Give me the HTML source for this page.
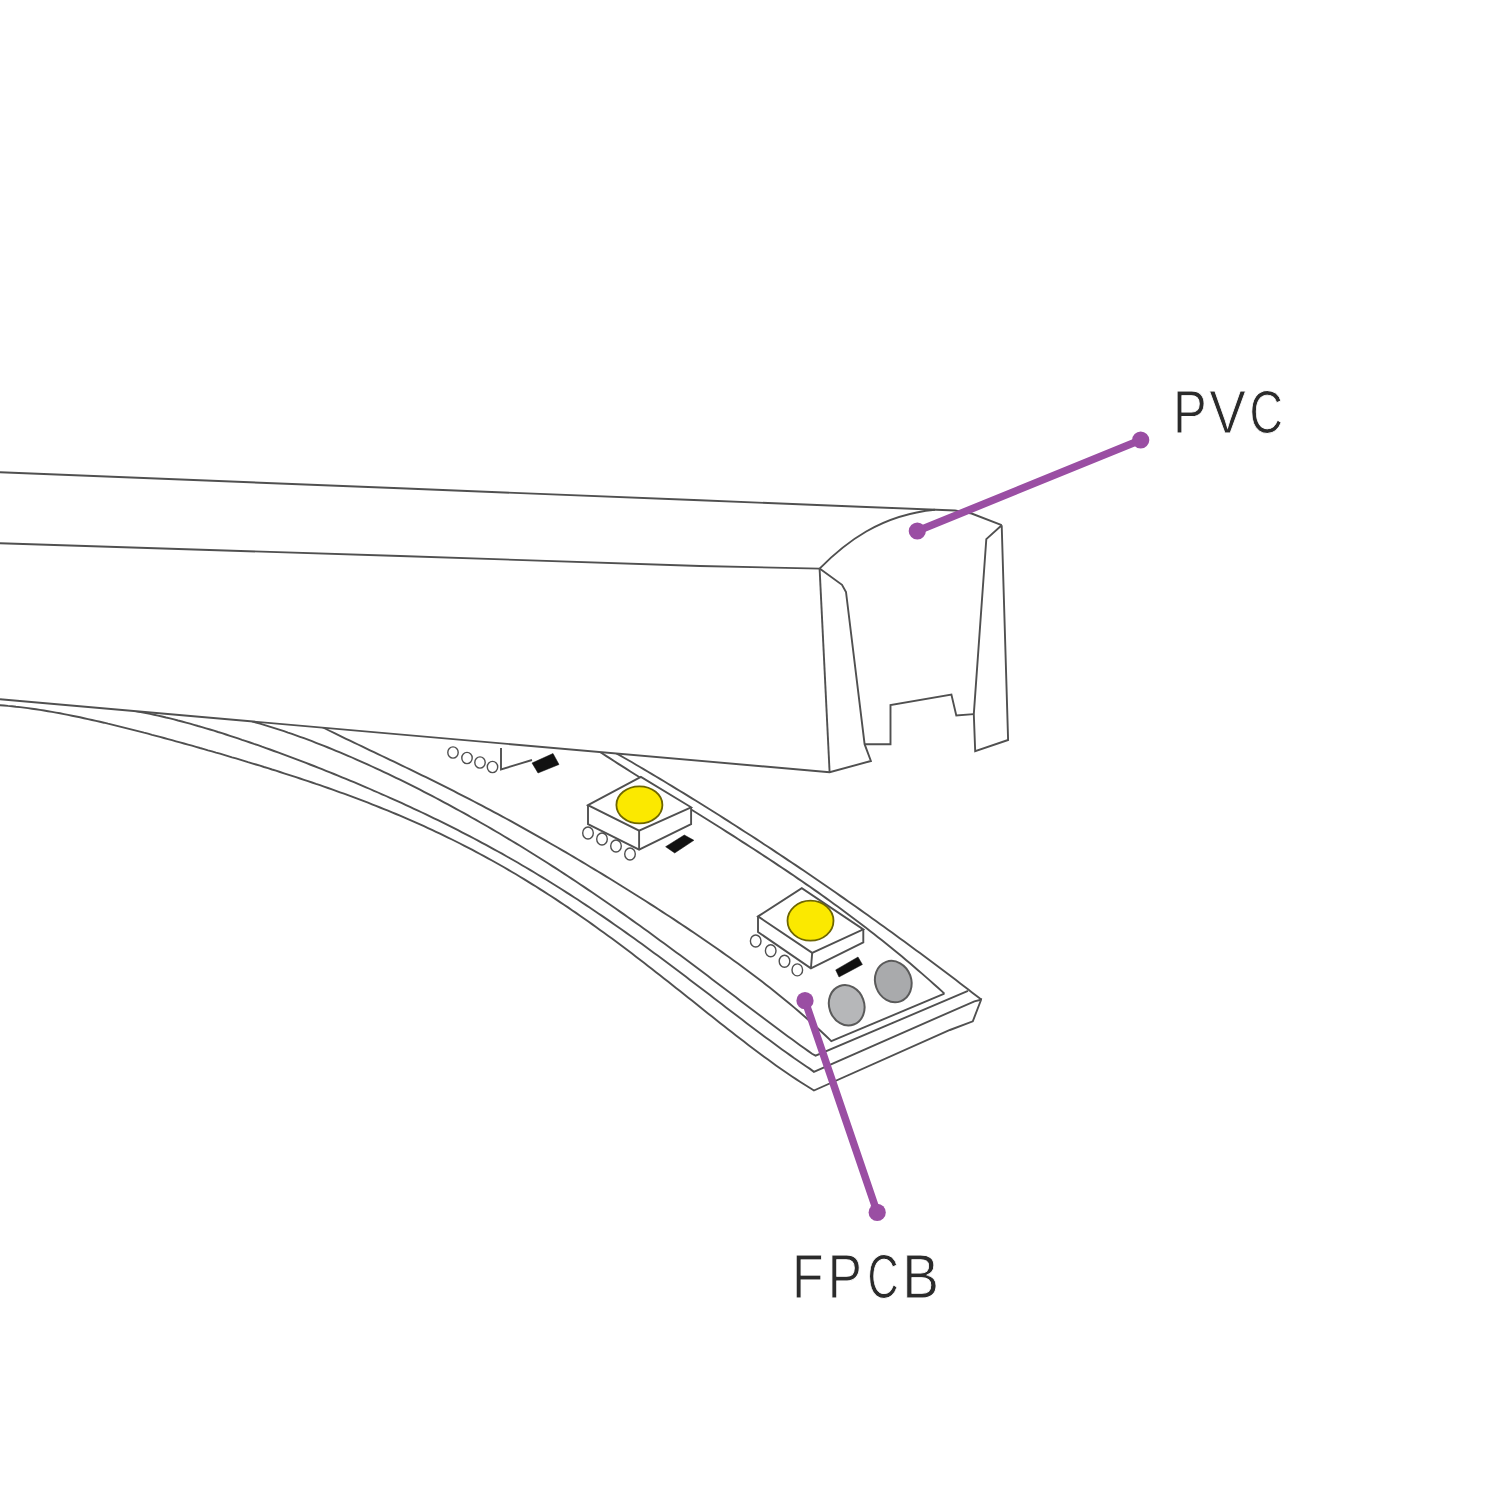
<!DOCTYPE html>
<html><head><meta charset="utf-8"><title>PVC FPCB</title>
<style>html,body{margin:0;padding:0;background:#fff;width:1500px;height:1500px;overflow:hidden;font-family:"Liberation Sans",sans-serif;}
svg{display:block;}</style></head><body>
<svg width="1500" height="1500" viewBox="0 0 1500 1500"><path d="M318,725 L322,727 L326,729 L330,731 L334,732.9 L338,734.9 L342,736.8 L346,738.8 L350,740.7 L354,742.6 L358,744.5 L362,746.4 L366,748.4 L370,750.3 L374,752.2 L378,754.1 L382,756 L386,757.9 L390,759.8 L394,761.7 L398,763.6 L402,765.6 L406,767.5 L410,769.4 L414,771.4 L418,773.3 L422,775.3 L426,777.2 L430,779.2 L434,781.2 L438,783.2 L442,785.2 L446,787.2 L450,789.2 L454,791.2 L458,793.3 L462,795.3 L466,797.4 L470,799.4 L474,801.5 L478,803.6 L482,805.7 L486,807.8 L490,809.9 L494,812.1 L498,814.2 L502,816.4 L506,818.5 L510,820.7 L514,822.9 L518,825.1 L522,827.3 L526,829.6 L530,831.8 L534,834.1 L538,836.3 L542,838.6 L546,840.9 L550,843.2 L554,845.5 L558,847.8 L562,850.1 L566,852.4 L570,854.8 L574,857.1 L578,859.5 L582,861.9 L586,864.3 L590,866.7 L594,869.1 L598,871.5 L602,873.9 L606,876.4 L610,878.8 L614,881.3 L618,883.7 L622,886.2 L626,888.7 L630,891.2 L634,893.7 L638,896.2 L642,898.8 L646,901.3 L650,903.9 L654,906.4 L658,909 L662,911.6 L666,914.2 L670,916.8 L674,919.4 L678,922.1 L682,924.7 L686,927.4 L690,930.1 L694,932.8 L698,935.5 L702,938.2 L706,941 L710,943.7 L714,946.5 L718,949.3 L722,952.1 L726,955 L730,957.8 L734,960.7 L738,963.6 L742,966.6 L746,969.5 L750,972.5 L754,975.5 L758,978.5 L762,981.6 L766,984.7 L770,987.8 L774,991 L778,994.2 L782,997.4 L786,1000.7 L790,1004 L794,1007.4 L798,1010.8 L802,1014.2 L806,1017.7 L810,1021.3 L814,1024.9 L818,1028.5 L822,1032.2 L826,1036 L830,1039.8 L831.3,1041.2 L944.4,993.6" fill="none" stroke="#505050" stroke-width="1.9" />
<path d="M598,750.7 L602,753.3 L606,755.9 L610,758.4 L614,761 L618,763.6 L622,766.1 L626,768.6 L630,771.2 L634,773.7 L638,776.2 L642,778.7 L646,781.3 L650,783.8 L654,786.3 L658,788.8 L662,791.3 L666,793.8 L670,796.3 L674,798.8 L678,801.3 L682,803.8 L686,806.2 L690,808.7 L694,811.2 L698,813.7 L702,816.2 L706,818.8 L710,821.3 L714,823.8 L718,826.3 L722,828.8 L726,831.4 L730,833.9 L734,836.4 L738,839 L742,841.6 L746,844.1 L750,846.7 L754,849.3 L758,851.9 L762,854.5 L766,857.1 L770,859.8 L774,862.4 L778,865.1 L782,867.7 L786,870.4 L790,873.1 L794,875.8 L798,878.6 L802,881.3 L806,884.1 L810,886.8 L814,889.6 L818,892.4 L822,895.3 L826,898.1 L830,901 L834,903.9 L838,906.8 L842,909.7 L846,912.7 L850,915.7 L854,918.7 L858,921.7 L862,924.7 L866,927.8 L870,930.9 L874,934 L878,937.2 L882,940.3 L886,943.5 L890,946.8 L894,950 L898,953.3 L902,956.6 L906,960 L910,963.3 L914,966.7 L918,970.2 L922,973.6 L926,977.1 L930,980.6 L934,984.2 L938,987.8 L942,991.4 L944.4,993.6" fill="none" stroke="#505050" stroke-width="1.9" />
<path d="M252,721.4 L256,722.5 L260,723.7 L264,724.9 L268,726.1 L272,727.3 L276,728.6 L280,729.9 L284,731.2 L288,732.6 L292,733.9 L296,735.3 L300,736.8 L304,738.2 L308,739.7 L312,741.2 L316,742.8 L320,744.3 L324,745.9 L328,747.5 L332,749.1 L336,750.8 L340,752.4 L344,754.1 L348,755.8 L352,757.5 L356,759.3 L360,761.1 L364,762.8 L368,764.6 L372,766.5 L376,768.3 L380,770.2 L384,772.1 L388,773.9 L392,775.9 L396,777.8 L400,779.7 L404,781.7 L408,783.7 L412,785.7 L416,787.7 L420,789.7 L424,791.8 L428,793.9 L432,795.9 L436,798 L440,800.2 L444,802.3 L448,804.4 L452,806.6 L456,808.8 L460,811 L464,813.2 L468,815.4 L472,817.7 L476,819.9 L480,822.2 L484,824.5 L488,826.8 L492,829.1 L496,831.5 L500,833.8 L504,836.2 L508,838.6 L512,841 L516,843.4 L520,845.8 L524,848.3 L528,850.7 L532,853.2 L536,855.7 L540,858.2 L544,860.8 L548,863.3 L552,865.9 L556,868.4 L560,871 L564,873.6 L568,876.2 L572,878.9 L576,881.5 L580,884.2 L584,886.9 L588,889.6 L592,892.3 L596,895 L600,897.7 L604,900.5 L608,903.2 L612,906 L616,908.8 L620,911.6 L624,914.4 L628,917.3 L632,920.1 L636,923 L640,925.8 L644,928.7 L648,931.6 L652,934.5 L656,937.4 L660,940.4 L664,943.3 L668,946.2 L672,949.2 L676,952.2 L680,955.1 L684,958.1 L688,961.1 L692,964.1 L696,967.1 L700,970.1 L704,973.1 L708,976.1 L712,979.2 L716,982.2 L720,985.2 L724,988.2 L728,991.3 L732,994.3 L736,997.3 L740,1000.4 L744,1003.4 L748,1006.4 L752,1009.5 L756,1012.5 L760,1015.5 L764,1018.5 L768,1021.5 L772,1024.5 L776,1027.5 L780,1030.5 L784,1033.4 L788,1036.4 L792,1039.3 L796,1042.2 L800,1045.2 L804,1048.1 L808,1050.9 L812,1053.8 L815.6,1055.7 L968,990.9" fill="none" stroke="#505050" stroke-width="1.9" />
<path d="M134,710.8 L138,711.5 L142,712.3 L146,713.1 L150,713.9 L154,714.7 L158,715.6 L162,716.5 L166,717.5 L170,718.4 L174,719.4 L178,720.5 L182,721.5 L186,722.6 L190,723.7 L194,724.8 L198,726 L202,727.1 L206,728.3 L210,729.5 L214,730.7 L218,732 L222,733.2 L226,734.5 L230,735.8 L234,737.1 L238,738.4 L242,739.8 L246,741.1 L250,742.5 L254,743.9 L258,745.2 L262,746.7 L266,748.1 L270,749.5 L274,751 L278,752.4 L282,753.9 L286,755.4 L290,756.9 L294,758.4 L298,759.9 L302,761.4 L306,762.9 L310,764.5 L314,766 L318,767.6 L322,769.2 L326,770.8 L330,772.4 L334,774 L338,775.6 L342,777.3 L346,778.9 L350,780.6 L354,782.2 L358,783.9 L362,785.6 L366,787.3 L370,789 L374,790.8 L378,792.5 L382,794.3 L386,796 L390,797.8 L394,799.6 L398,801.4 L402,803.2 L406,805.1 L410,806.9 L414,808.8 L418,810.6 L422,812.5 L426,814.4 L430,816.4 L434,818.3 L438,820.2 L442,822.2 L446,824.2 L450,826.2 L454,828.2 L458,830.2 L462,832.3 L466,834.3 L470,836.4 L474,838.5 L478,840.6 L482,842.8 L486,844.9 L490,847.1 L494,849.3 L498,851.5 L502,853.7 L506,856 L510,858.3 L514,860.5 L518,862.8 L522,865.2 L526,867.5 L530,869.9 L534,872.3 L538,874.7 L542,877.1 L546,879.5 L550,882 L554,884.5 L558,887 L562,889.5 L566,892.1 L570,894.6 L574,897.2 L578,899.8 L582,902.5 L586,905.1 L590,907.8 L594,910.5 L598,913.2 L602,915.9 L606,918.6 L610,921.4 L614,924.2 L618,927 L622,929.8 L626,932.6 L630,935.5 L634,938.3 L638,941.2 L642,944.1 L646,947 L650,949.9 L654,952.9 L658,955.8 L662,958.8 L666,961.8 L670,964.8 L674,967.8 L678,970.8 L682,973.8 L686,976.8 L690,979.9 L694,982.9 L698,986 L702,989 L706,992.1 L710,995.1 L714,998.2 L718,1001.3 L722,1004.3 L726,1007.4 L730,1010.5 L734,1013.5 L738,1016.6 L742,1019.6 L746,1022.7 L750,1025.7 L754,1028.7 L758,1031.7 L762,1034.7 L766,1037.7 L770,1040.6 L774,1043.6 L778,1046.5 L782,1049.4 L786,1052.3 L790,1055.1 L794,1058 L798,1060.7 L802,1063.5 L806,1066.2 L810,1068.9 L813.9,1071.8 L974.4,1001.3 L981.9,999.5" fill="none" stroke="#505050" stroke-width="1.9" />
<path d="M-4,704.9 L0,705.2 L4,705.5 L8,705.9 L12,706.2 L16,706.7 L20,707.1 L24,707.6 L28,708.1 L32,708.7 L36,709.3 L40,709.9 L44,710.5 L48,711.2 L52,711.9 L56,712.6 L60,713.3 L64,714.1 L68,714.9 L72,715.7 L76,716.5 L80,717.3 L84,718.2 L88,719.1 L92,720 L96,720.9 L100,721.8 L104,722.7 L108,723.7 L112,724.6 L116,725.6 L120,726.6 L124,727.6 L128,728.6 L132,729.6 L136,730.6 L140,731.6 L144,732.7 L148,733.7 L152,734.8 L156,735.8 L160,736.9 L164,738 L168,739.1 L172,740.2 L176,741.3 L180,742.4 L184,743.5 L188,744.6 L192,745.7 L196,746.8 L200,748 L204,749.1 L208,750.3 L212,751.4 L216,752.6 L220,753.7 L224,754.9 L228,756.1 L232,757.3 L236,758.4 L240,759.6 L244,760.8 L248,762.1 L252,763.3 L256,764.5 L260,765.7 L264,767 L268,768.2 L272,769.5 L276,770.7 L280,772 L284,773.3 L288,774.6 L292,775.9 L296,777.2 L300,778.5 L304,779.8 L308,781.1 L312,782.5 L316,783.9 L320,785.2 L324,786.6 L328,788 L332,789.4 L336,790.8 L340,792.3 L344,793.7 L348,795.2 L352,796.7 L356,798.2 L360,799.7 L364,801.2 L368,802.7 L372,804.3 L376,805.9 L380,807.5 L384,809.1 L388,810.7 L392,812.4 L396,814 L400,815.7 L404,817.4 L408,819.1 L412,820.9 L416,822.7 L420,824.4 L424,826.2 L428,828.1 L432,829.9 L436,831.8 L440,833.7 L444,835.6 L448,837.6 L452,839.5 L456,841.5 L460,843.5 L464,845.6 L468,847.6 L472,849.7 L476,851.8 L480,854 L484,856.1 L488,858.3 L492,860.5 L496,862.8 L500,865 L504,867.3 L508,869.6 L512,872 L516,874.3 L520,876.7 L524,879.1 L528,881.6 L532,884.1 L536,886.5 L540,889.1 L544,891.6 L548,894.2 L552,896.8 L556,899.4 L560,902.1 L564,904.7 L568,907.4 L572,910.2 L576,912.9 L580,915.7 L584,918.5 L588,921.3 L592,924.1 L596,927 L600,929.9 L604,932.8 L608,935.7 L612,938.6 L616,941.6 L620,944.6 L624,947.6 L628,950.6 L632,953.6 L636,956.7 L640,959.8 L644,962.8 L648,965.9 L652,969 L656,972.2 L660,975.3 L664,978.4 L668,981.6 L672,984.8 L676,987.9 L680,991.1 L684,994.3 L688,997.5 L692,1000.6 L696,1003.8 L700,1007 L704,1010.2 L708,1013.4 L712,1016.5 L716,1019.7 L720,1022.9 L724,1026 L728,1029.2 L732,1032.3 L736,1035.4 L740,1038.5 L744,1041.6 L748,1044.7 L752,1047.7 L756,1050.7 L760,1053.7 L764,1056.7 L768,1059.6 L772,1062.5 L776,1065.4 L780,1068.2 L784,1071 L788,1073.8 L792,1076.5 L796,1079.1 L800,1081.7 L804,1084.3 L808,1086.8 L812,1089.3 L813.9,1090.5 L949.9,1030 L972.8,1021.3 L980.8,1000.5" fill="none" stroke="#505050" stroke-width="1.9" />
<path d="M612,750.8 L616,753.1 L620,755.4 L624,757.7 L628,760 L632,762.3 L636,764.7 L640,767 L644,769.4 L648,771.8 L652,774.1 L656,776.5 L660,778.9 L664,781.3 L668,783.7 L672,786.1 L676,788.6 L680,791 L684,793.4 L688,795.9 L692,798.4 L696,800.8 L700,803.3 L704,805.8 L708,808.3 L712,810.8 L716,813.3 L720,815.8 L724,818.4 L728,820.9 L732,823.5 L736,826 L740,828.6 L744,831.2 L748,833.7 L752,836.3 L756,838.9 L760,841.5 L764,844.2 L768,846.8 L772,849.4 L776,852.1 L780,854.7 L784,857.4 L788,860.1 L792,862.7 L796,865.4 L800,868.1 L804,870.8 L808,873.5 L812,876.3 L816,879 L820,881.7 L824,884.5 L828,887.3 L832,890 L836,892.8 L840,895.6 L844,898.4 L848,901.2 L852,904 L856,906.8 L860,909.6 L864,912.5 L868,915.3 L872,918.2 L876,921 L880,923.9 L884,926.8 L888,929.7 L892,932.6 L896,935.5 L900,938.4 L904,941.3 L908,944.3 L912,947.2 L916,950.2 L920,953.1 L924,956.1 L928,959.1 L932,962 L936,965 L940,968 L944,971.1 L948,974.1 L952,977.1 L956,980.1 L960,983.2 L964,986.2 L968,989.3 L972,992.4 L976,995.5 L980,998.6 L981.9,999.5" fill="none" stroke="#505050" stroke-width="1.9" stroke-linejoin="round"/>
<ellipse cx="453" cy="752.5" rx="5.2" ry="5.6" fill="#fff" stroke="#505050" stroke-width="1.4"/>
<ellipse cx="467" cy="758" rx="5.2" ry="5.6" fill="#fff" stroke="#505050" stroke-width="1.4"/>
<ellipse cx="480" cy="762.5" rx="5.2" ry="5.6" fill="#fff" stroke="#505050" stroke-width="1.4"/>
<ellipse cx="492.5" cy="767" rx="5.2" ry="5.6" fill="#fff" stroke="#505050" stroke-width="1.4"/>
<path d="M501,748 L501,769.5 L532,760" fill="none" stroke="#505050" stroke-width="1.9" />
<path d="M532,763 L553,753.5 L559,764.5 L538,773 Z" fill="#111" stroke="#111" stroke-width="0.5" />
<path d="M588,805.1 L640.9,776.9 L691.1,807.3 L691.1,824.2 L639.1,849.7 L588,824.2 Z" fill="#fff" stroke="none"/>
<ellipse cx="588" cy="833" rx="5.3" ry="6" fill="#fff" stroke="#505050" stroke-width="1.4"/>
<ellipse cx="602" cy="839" rx="5.3" ry="6" fill="#fff" stroke="#505050" stroke-width="1.4"/>
<ellipse cx="616" cy="846" rx="5.3" ry="6" fill="#fff" stroke="#505050" stroke-width="1.4"/>
<ellipse cx="630" cy="854" rx="5.3" ry="6" fill="#fff" stroke="#505050" stroke-width="1.4"/>
<path d="M588,805.1 L640.9,776.9 L691.1,807.3 L639.1,830.7 Z" fill="none" stroke="#505050" stroke-width="1.9" />
<path d="M588,805.1 L588,824.2 L639.1,849.7 L691.1,824.2 L691.1,807.3" fill="none" stroke="#505050" stroke-width="1.9" />
<path d="M639.1,830.7 L639.1,849.7" fill="none" stroke="#505050" stroke-width="1.9" />
<ellipse cx="639.4" cy="804.9" rx="23" ry="18.5" fill="#fbe900" stroke="#6e6600" stroke-width="1.8"/>
<path d="M665.6,846.7 L684.3,835 L693.9,840.3 L674.7,853 Z" fill="#111" stroke="#111" stroke-width="0.5" />
<path d="M758,916.4 L801.8,888.2 L863.3,929.4 L863.3,942.4 L810.9,968.4 L758,932 Z" fill="#fff" stroke="none"/>
<ellipse cx="755.7" cy="941" rx="5.3" ry="6" fill="#fff" stroke="#505050" stroke-width="1.4"/>
<ellipse cx="770.7" cy="950.7" rx="5.3" ry="6" fill="#fff" stroke="#505050" stroke-width="1.4"/>
<ellipse cx="784.5" cy="961.3" rx="5.3" ry="6" fill="#fff" stroke="#505050" stroke-width="1.4"/>
<ellipse cx="797.3" cy="969.9" rx="5.3" ry="6" fill="#fff" stroke="#505050" stroke-width="1.4"/>
<path d="M758,916.4 L801.8,888.2 L863.3,929.4 L812.2,952.8 Z" fill="none" stroke="#505050" stroke-width="1.9" />
<path d="M758,916.4 L758,932 L810.9,968.4 L863.3,942.4 L863.3,929.4" fill="none" stroke="#505050" stroke-width="1.9" />
<path d="M812.2,952.8 L810.9,968.4" fill="none" stroke="#505050" stroke-width="1.9" />
<ellipse cx="810.5" cy="920.7" rx="23" ry="20" fill="#fbe900" stroke="#6e6600" stroke-width="1.8"/>
<path d="M835.7,969.9 L858,957 L862.4,964.5 L839,977 Z" fill="#111" stroke="#111" stroke-width="0.5" />
<ellipse cx="846.7" cy="1005.3" rx="17.5" ry="20.5" transform="rotate(-20 846.7 1005.3)" fill="#b6b7b9" stroke="#5a5a5a" stroke-width="2"/>
<ellipse cx="893.3" cy="981.6" rx="18" ry="21" transform="rotate(-20 893.3 981.6)" fill="#a9aaac" stroke="#5a5a5a" stroke-width="2"/>
<path d="M0,472.3 L400,488.3 L700,500.3 L860,506.7 L955,510.5 L971.6,513.5 L1001.7,525.2 L1006.7,670 L1008.1,740 L975.2,751.2 L973.8,714.1 L956.3,715.5 L951.4,694.5 L890.5,705 L890.5,744.2 L864.6,744.2 L870.9,761 L829.6,772.2 L0,699.3 Z" fill="#fff" stroke="none"/>
<path d="M0,472.3 L400,488.3 L700,500.3 L860,506.7 L955,510.5 L971.6,513.5 L1001.7,525.2" fill="none" stroke="#505050" stroke-width="1.9" />
<path d="M819.6,568.6 C845,543 880,515 935,509.8" fill="none" stroke="#505050" stroke-width="1.9" />
<path d="M0,543.3 L400,556 L700,566 L819.6,568.6" fill="none" stroke="#505050" stroke-width="1.9" />
<path d="M819.6,568.6 L829.6,772.2" fill="none" stroke="#505050" stroke-width="1.9" />
<path d="M819.6,568.6 L842,584.8 L846,592 L864.6,744.2 L870.9,761 L829.6,772.2 L0,699.3" fill="none" stroke="#505050" stroke-width="1.9" />
<path d="M864.6,744.2 L890.5,744.2 L890.5,705 L951.4,694.5 L956.3,715.5 L973.8,714.1" fill="none" stroke="#505050" stroke-width="1.9" />
<path d="M1001.7,525.2 L986.3,539.1 L973.8,714.1 L975.2,751.2 L1008.1,740 L1001.7,525.2" fill="none" stroke="#505050" stroke-width="1.9" />
<line x1="917.3" y1="531" x2="1140.7" y2="440" stroke="#9a4ea3" stroke-width="7.5" stroke-linecap="round"/>
<circle cx="917.3" cy="531" r="8.6" fill="#9a4ea3"/>
<circle cx="1140.7" cy="440" r="8.6" fill="#9a4ea3"/>
<line x1="805" y1="1000.7" x2="877.2" y2="1212.4" stroke="#9a4ea3" stroke-width="7.5" stroke-linecap="round"/>
<circle cx="805" cy="1000.7" r="8.6" fill="#9a4ea3"/>
<circle cx="877.2" cy="1212.4" r="8.6" fill="#9a4ea3"/>
<text transform="translate(1173.00 433.45) scale(0.8260 1)" font-family="Liberation Sans, sans-serif" font-size="61.19" fill="#2b2b2b" stroke="#fff" stroke-width="0.9">P</text>
<text transform="translate(1209.31 433.45) scale(0.8963 1)" font-family="Liberation Sans, sans-serif" font-size="61.19" fill="#2b2b2b" stroke="#fff" stroke-width="0.9">V</text>
<text transform="translate(1249.60 433.45) scale(0.7561 1)" font-family="Liberation Sans, sans-serif" font-size="61.19" fill="#2b2b2b" stroke="#fff" stroke-width="0.9">C</text>
<text transform="translate(792.02 1298.45) scale(0.8307 1)" font-family="Liberation Sans, sans-serif" font-size="62.07" fill="#2b2b2b" stroke="#fff" stroke-width="0.9">F</text>
<text transform="translate(827.76 1298.45) scale(0.8234 1)" font-family="Liberation Sans, sans-serif" font-size="62.07" fill="#2b2b2b" stroke="#fff" stroke-width="0.9">P</text>
<text transform="translate(867.47 1298.45) scale(0.6920 1)" font-family="Liberation Sans, sans-serif" font-size="62.07" fill="#2b2b2b" stroke="#fff" stroke-width="0.9">C</text>
<text transform="translate(902.33 1298.45) scale(0.8870 1)" font-family="Liberation Sans, sans-serif" font-size="62.07" fill="#2b2b2b" stroke="#fff" stroke-width="0.9">B</text></svg>
</body></html>
